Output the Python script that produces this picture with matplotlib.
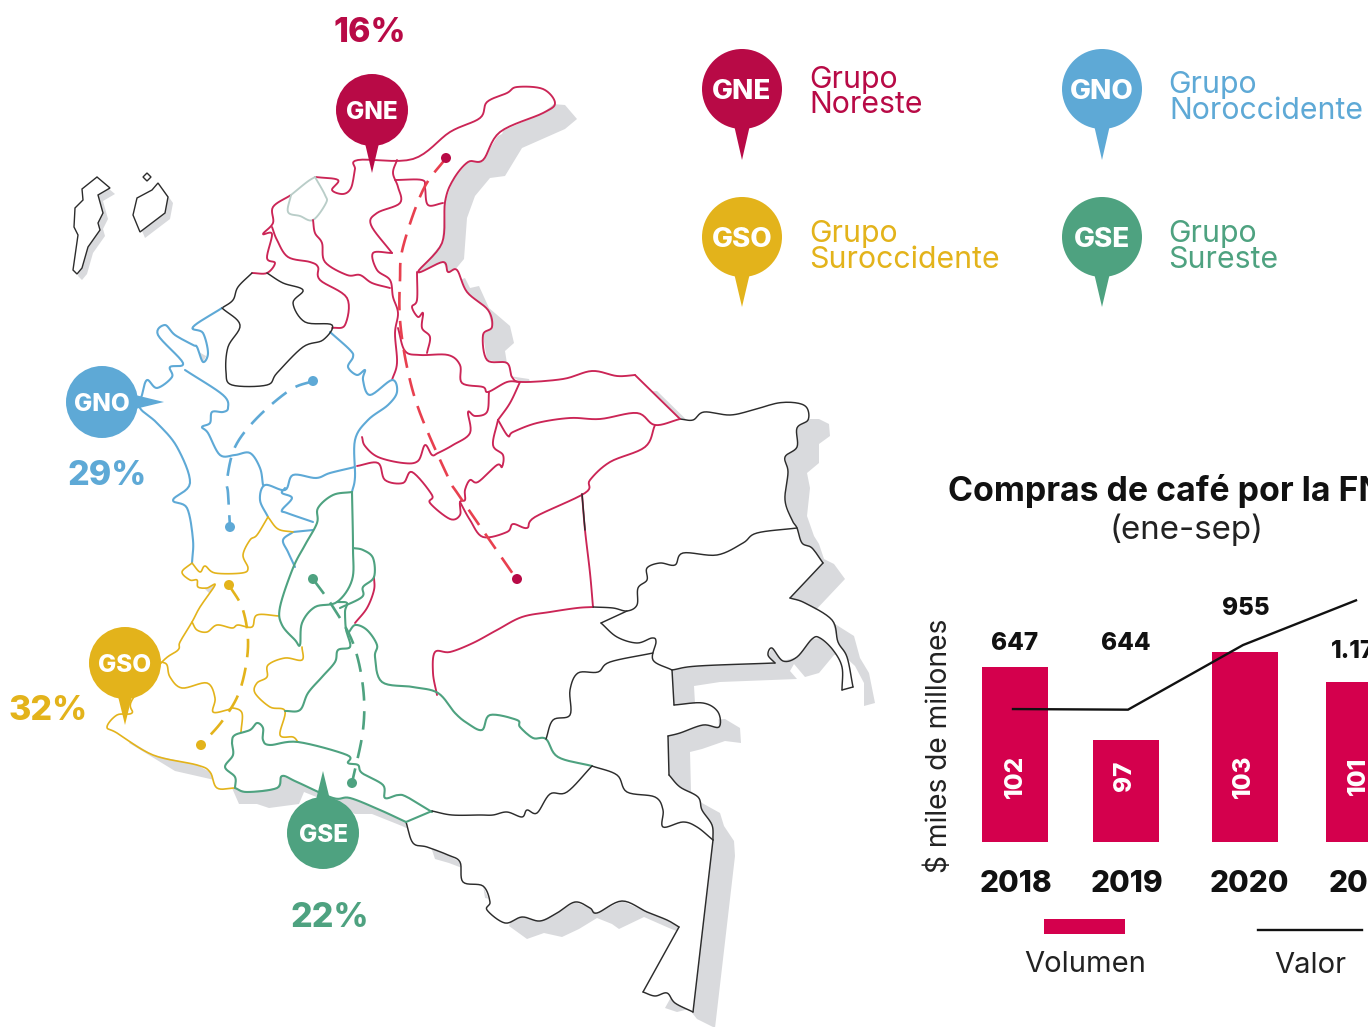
#!/usr/bin/env python3
"""Compras de cafe por grupo regional: mapa de Colombia y barras de la FNC"""
import numpy as np
import matplotlib
matplotlib.use('Agg')
import matplotlib.pyplot as plt
from matplotlib.patches import Circle, Polygon, Rectangle

plt.rcParams['font.family'] = ['Inter', 'DejaVu Sans']

W, H = 1368, 1027

RED = '#b80a46'
BLUE = '#5ea9d6'
YELLOW = '#e3b31b'
GREEN = '#4ea280'
LINE_RED = '#cb2556'
DARK = '#2c2c2c'
PALE = '#b9cdc8'
SHADOW = '#d9dadd'
BAR = '#d4004d'

# chart values
years = ['2018', '2019', '2020', '2021']
volumen = [102, 97, 103, 101]
valor = [647, 644, 955, 1170]
valor_labels = ['647', '644', '955', '1.170']

# map, in image pixels
coast_nw = [(252, 273), (267, 273), (275, 263), (267, 258), (272, 234), (263, 234),
            (273, 223), (273, 207), (291, 195)]
coast_atl = [(291, 195), (307, 182), (315, 177)]
coast_ne = [(315, 177), (338, 180), (332, 190), (343, 194), (351, 188), (355, 170), (358, 160),
            (413, 159), (450, 132), (480, 118), (487, 102), (507, 93), (517, 87),
            (543, 89), (555, 103), (543, 113), (500, 132), (483, 160), (468, 162),
            (453, 180), (445, 202), (442, 243), (418, 272), (443, 262), (448, 272),
            (457, 270), (467, 292), (488, 310), (492, 327), (483, 335), (487, 360),
            (507, 363), (512, 377), (522, 382), (563, 379), (592, 371), (617, 376),
            (635, 375)]
coast_ne2 = [(635, 375), (680, 419)]
east_a = [(680, 419), (693, 420), (704, 412), (730, 415), (753, 410), (778, 403),
          (797, 403), (807, 408), (808, 420), (797, 428), (797, 447), (785, 457),
          (788, 472), (785, 500), (792, 520), (797, 528), (802, 543), (812, 548),
          (823, 563)]
east_b = [(823, 563), (790, 598)]
east_c = [(790, 598), (805, 603), (832, 620), (838, 642), (847, 657), (853, 687)]
east_d = [(853, 687), (842, 690)]
east_e = [(842, 690), (842, 667), (833, 650), (820, 638), (812, 639), (797, 657),
          (783, 661), (772, 648), (768, 655), (775, 663)]
east_f = [(775, 663), (698, 666), (672, 670)]
east_g = [(672, 670), (674, 705)]
east_h = [(674, 705), (703, 703), (718, 712), (719, 727), (703, 725), (680, 733),
          (668, 736)]
east_i = [(668, 736), (669, 775)]
east_j = [(669, 775), (680, 787), (698, 797), (702, 810), (712, 825), (713, 840)]
east_k = [(713, 840), (693, 1012)]
east_l = [(693, 1012), (675, 1003), (667, 993), (655, 996), (643, 992)]
east_m = [(643, 992), (679, 927)]
south_a = [(679, 927), (667, 920), (647, 912), (622, 901), (597, 913), (590, 908),
           (575, 902), (557, 913), (540, 921), (522, 917), (505, 923), (487, 910),
           (490, 902), (483, 886), (463, 882), (460, 862), (448, 855), (427, 847),
           (413, 843), (406, 822)]
coast_green = [(406, 822), (380, 810), (350, 798), (333, 798), (297, 782), (282, 776),
               (277, 788), (247, 792), (235, 788)]
coast_yellow = [(235, 788), (217, 788), (210, 772), (197, 765), (153, 755), (117, 733),
                (107, 727), (117, 715), (132, 713), (132, 700), (162, 662), (178, 650),
                (180, 642), (192, 622), (200, 607), (215, 585), (207, 588), (198, 587),
                (197, 580), (190, 580), (182, 572), (192, 563)]
coast_blue = [(192, 563), (193, 540), (187, 508), (173, 500), (190, 483), (177, 447),
              (157, 423), (140, 408), (142, 395), (147, 380), (157, 388), (172, 377),
              (170, 367), (183, 363), (158, 335), (165, 325), (175, 335), (193, 345),
              (197, 347), (203, 362), (208, 353), (203, 333), (193, 327), (222, 308)]
coast_dark = [(222, 308), (233, 300), (238, 287), (252, 273)]

outer = [coast_nw, coast_atl, coast_ne, coast_ne2, east_a, east_b, east_c, east_d, east_e,
         east_f, east_g, east_h, east_i, east_j, east_k, east_l, east_m, south_a,
         coast_green, coast_yellow, coast_blue, coast_dark]

island_a = [(97, 177), (110, 188), (98, 195), (103, 213), (98, 223), (100, 230), (88, 247),
            (82, 268), (77, 274), (73, 270), (78, 235), (74, 227), (75, 208), (83, 200),
            (82, 189)]
island_b = [(158, 183), (168, 197), (165, 213), (140, 232), (133, 215), (137, 198),
            (152, 190)]
island_c = [(147, 173), (151, 177), (147, 181), (143, 177)]

borders_red = [
    [(313, 220), (315, 233), (322, 243), (325, 262), (347, 275), (360, 275), (372, 283),
     (390, 288)],
    [(272, 227), (277, 240), (288, 257), (310, 262), (318, 267), (320, 280), (347, 298),
     (345, 325), (332, 328)],
    [(397, 160), (393, 173), (398, 187), (400, 203), (377, 213), (371, 225), (392, 253)],
    [(392, 253), (373, 253), (377, 270), (390, 280), (393, 297), (398, 313), (395, 333),
     (397, 363), (392, 380)],
    [(395, 180), (422, 180), (425, 188), (428, 205), (443, 203)],
    [(417, 272), (417, 300), (412, 307), (418, 317), (423, 313), (422, 328), (430, 337),
     (427, 353)],
    [(398, 328), (405, 351), (420, 355), (448, 355), (460, 365), (462, 383), (483, 387),
     (488, 392), (507, 382), (520, 382)],
    [(489, 392), (487, 412), (475, 416), (468, 412), (470, 433), (453, 445), (438, 453),
     (432, 455), (425, 445), (418, 461), (403, 463), (378, 457), (365, 446), (362, 437)],
    [(520, 382), (510, 403), (498, 420)],
    [(498, 420), (508, 436), (513, 432), (537, 423), (570, 418), (600, 419), (637, 413),
     (655, 425), (680, 419)],
    [(498, 420), (493, 445), (503, 455), (502, 467), (497, 465), (478, 482), (470, 480),
     (465, 490), (465, 500), (460, 502), (460, 515), (450, 519), (430, 503), (432, 495),
     (412, 472), (403, 483), (385, 480), (378, 463), (357, 466)],
    [(655, 425), (645, 447), (610, 462), (590, 480), (585, 493), (535, 517), (527, 528),
     (513, 524), (507, 532), (483, 537), (470, 520), (460, 502)],
    [(582, 494), (585, 530), (590, 573), (593, 607)],
    [(593, 607), (577, 608), (550, 612), (522, 617), (497, 630), (473, 643), (450, 652),
     (435, 652), (433, 673), (437, 695)],
    [(374, 577), (374, 590), (367, 608), (355, 623)],
]
borders_blue = [
    [(330, 332), (350, 350), (353, 357), (348, 367), (357, 375), (365, 370), (363, 380),
     (370, 395), (392, 380), (397, 392), (388, 405), (368, 420), (355, 440), (355, 477),
     (352, 492)],
    [(355, 467), (330, 473), (316, 478), (293, 475), (285, 490), (265, 485), (260, 500),
     (268, 517)],
    [(185, 370), (223, 395), (228, 408), (223, 412), (212, 412), (210, 423), (202, 427),
     (208, 433), (220, 455), (235, 455), (250, 453), (260, 468), (263, 485)],
    [(293, 532), (283, 540), (288, 552), (295, 567)],
    [(313, 522), (287, 513), (282, 510), (292, 498), (282, 493), (285, 488)],
    [(293, 532), (313, 530)],
]
borders_yellow = [
    [(268, 517), (257, 535), (250, 540), (243, 555), (248, 568), (242, 573), (215, 573),
     (205, 566), (200, 572), (192, 563)],
    [(268, 517), (278, 529), (293, 532)],
    [(192, 622), (197, 630), (207, 632), (217, 625), (232, 628), (238, 625), (252, 627),
     (257, 615), (279, 616)],
    [(162, 662), (167, 665), (170, 677), (182, 688), (207, 683), (215, 698), (213, 712),
     (227, 710), (233, 708), (242, 713), (241, 732)],
    [(302, 647), (302, 660), (285, 658), (268, 665), (267, 677), (257, 683), (255, 693),
     (270, 707), (285, 711), (280, 735), (293, 737), (298, 742)],
]
borders_green = [
    [(352, 492), (333, 495), (318, 508), (317, 523), (305, 545), (293, 568), (280, 607),
     (282, 625), (295, 640), (300, 645), (302, 623), (315, 607), (337, 602), (352, 580),
     (353, 548), (352, 492)],
    [(353, 548), (363, 550), (373, 558), (374, 577), (363, 587), (362, 597), (340, 608)],
    [(337, 602), (347, 603), (345, 612), (347, 633), (355, 625), (367, 630), (377, 645),
     (375, 657), (382, 682), (413, 687), (438, 693), (455, 713), (467, 723), (482, 730),
     (490, 715), (517, 720), (520, 727), (533, 738), (546, 739), (558, 757), (592, 766)],
    [(347, 633), (350, 647), (338, 650), (335, 662), (322, 677), (308, 693), (300, 710),
     (285, 711)],
    [(432, 812), (407, 797), (398, 795), (385, 798), (383, 785), (362, 773), (358, 765),
     (348, 763), (347, 755), (298, 742), (270, 745), (263, 740), (263, 728), (257, 723),
     (250, 730), (235, 735), (232, 742), (233, 755), (225, 767), (235, 777), (235, 788)],
    [(432, 811), (406, 822)],
]
borders_dark = [
    [(222, 308), (240, 325), (228, 347), (226, 372), (232, 385), (267, 385), (277, 373),
     (303, 347), (323, 340), (332, 325), (305, 322), (293, 303), (303, 290), (283, 283),
     (267, 273)],
    [(593, 607), (613, 608), (627, 611), (637, 605), (638, 588), (647, 580), (647, 568),
     (660, 563), (675, 565), (683, 553), (717, 555), (743, 543), (757, 533), (797, 528)],
    [(627, 611), (601, 623)],
    [(601, 623), (617, 637), (637, 643), (652, 638), (656, 642), (653, 660), (672, 670)],
    [(653, 653), (610, 662), (598, 672), (578, 673), (570, 690), (570, 715), (553, 720),
     (546, 739)],
    [(592, 766), (617, 775), (627, 792), (655, 797), (663, 810), (663, 827), (683, 822),
     (697, 827), (713, 840)],
    [(592, 766), (567, 792), (550, 794), (537, 813), (527, 810), (522, 817), (507, 812),
     (493, 815), (480, 815), (452, 815), (432, 811)],
    [(582, 494), (585, 530)],
]
atlantico = [(315, 177), (325, 195), (326, 203), (313, 220), (300, 216), (288, 212), (291, 195)]

route_gne = [(446, 158), (423, 190), (403, 247), (400, 280), (400, 320), (407, 367),
             (420, 413), (448, 477), (460, 497), (513, 574)]
route_gno = [(313, 381), (290, 390), (257, 418), (235, 447), (227, 480), (228, 493), (230, 527)]
route_gso = [(229, 585), (243, 610), (248, 647), (240, 690), (223, 720), (201, 745)]
route_gse = [(313, 579), (333, 607), (353, 643), (363, 687), (363, 730), (352, 783)]


def smooth(pts, n=8):
    """catmull-rom through the traced points, so borders do not look angular"""
    p = np.array(pts, dtype=float)
    if len(p) < 3:
        return p
    p = np.vstack([2 * p[0] - p[1], p, 2 * p[-1] - p[-2]])
    out = []
    for i in range(1, len(p) - 2):
        for t in np.linspace(0, 1, n, endpoint=False):
            out.append(0.5 * (2 * p[i] + (p[i + 1] - p[i - 1]) * t
                              + (2 * p[i - 1] - 5 * p[i] + 4 * p[i + 1] - p[i + 2]) * t ** 2
                              + (3 * p[i] - p[i - 1] - 3 * p[i + 1] + p[i + 2]) * t ** 3))
    out.append(p[-2])
    return np.array(out)


def draw_line(ax, pts, color, lw=1.35, z=5, **kw):
    xy = smooth(pts)
    ax.plot(xy[:, 0], xy[:, 1], color=color, lw=lw, zorder=z, solid_capstyle='round',
            solid_joinstyle='round', **kw)


def draw_pin(ax, cx, cy, r, tip, label, color, size):
    """circle with a narrow spike, tip is where the spike ends"""
    dx, dy = tip[0] - cx, tip[1] - cy
    d = np.hypot(dx, dy)
    ux, uy = dx / d, dy / d
    half = r * 0.2
    base = (cx + ux * r * 0.9, cy + uy * r * 0.9)
    ax.add_patch(Polygon([(base[0] - uy * half, base[1] + ux * half),
                          (base[0] + uy * half, base[1] - ux * half), tip],
                         closed=True, color=color, lw=0, zorder=8))
    ax.add_patch(Circle((cx, cy), r, color=color, lw=0, zorder=8))
    ax.text(cx, cy, label, color='white', fontsize=size, fontweight='heavy', ha='center',
            va='center_baseline', zorder=9)


fig = plt.figure(figsize=(W / 100, H / 100), dpi=100, facecolor='white')

# chart axes: x in image pixels, one y scale per series
ax_bar = fig.add_axes([0, 0, 1, 1])
ax_bar.set_xlim(0, W)
ax_bar.set_ylim(77.34, 147.68)
ax_bar.axis('off')
ax_line = fig.add_axes([0, 0, 1, 1], sharex=ax_bar)
ax_line.set_ylim(-883, 4059)
ax_line.axis('off')
ax_line.patch.set_alpha(0)

bar_x = [1015, 1126, 1245, 1359]
line_x = [1013, 1128, 1243, 1356]
ax_bar.bar(bar_x, np.array(volumen) - 90.0, bottom=90.0, width=66, color=BAR, lw=0)
ax_line.plot(line_x, valor, color='#111111', lw=1.7, solid_joinstyle='miter')

# map and texts, image pixels
ax = fig.add_axes([0, 0, 1, 1])
ax.set_xlim(0, W)
ax.set_ylim(H, 0)
ax.axis('off')
ax.patch.set_alpha(0)

outline = np.vstack([np.array(seg[:-1]) for seg in outer])
ax.add_patch(Polygon(outline + [22, 16], closed=True, color=SHADOW, lw=0, zorder=1))
ax.add_patch(Polygon(outline, closed=True, color='white', lw=0, zorder=2))

for isl in [island_a, island_b]:
    xy = np.array(isl)
    ax.add_patch(Polygon(xy + [5, 6], closed=True, color=SHADOW, lw=0, zorder=1))
    ax.add_patch(Polygon(xy, closed=True, fc='white', ec=DARK, lw=1.0, zorder=3))
ax.add_patch(Polygon(np.array(island_c), closed=True, fc='white', ec=DARK, lw=1.0, zorder=3))

for seg in [coast_nw, coast_ne, coast_ne2]:
    draw_line(ax, seg, LINE_RED)
draw_line(ax, coast_atl, PALE)
draw_line(ax, atlantico, PALE)
for seg in [east_a, east_b, east_c, east_d, east_e, east_f, east_g, east_h, east_i, east_j,
            east_k, east_l, east_m, south_a, coast_dark]:
    draw_line(ax, seg, DARK, lw=1.05)
draw_line(ax, coast_green, GREEN, lw=1.5)
draw_line(ax, coast_yellow, YELLOW, lw=1.2)
draw_line(ax, coast_blue, BLUE, lw=1.5)
for seg in borders_red:
    draw_line(ax, seg, LINE_RED)
for seg in borders_blue:
    draw_line(ax, seg, BLUE, lw=1.5)
for seg in borders_yellow:
    draw_line(ax, seg, YELLOW, lw=1.2)
for seg in borders_green:
    draw_line(ax, seg, GREEN, lw=1.5)
for seg in borders_dark:
    draw_line(ax, seg, DARK, lw=1.05)

# dashed routes with their end dots
for route, col, dot in [(route_gne, '#e8404f', RED), (route_gno, BLUE, BLUE),
                        (route_gso, YELLOW, YELLOW), (route_gse, GREEN, GREEN)]:
    xy = smooth(route)
    ax.plot(xy[:, 0], xy[:, 1], color=col, lw=1.9, ls=(0, (7, 4)), zorder=6)
    for k in (0, -1):
        if route is route_gne and k == -1:
            end = (517, 579)
        else:
            end = route[k]
        ax.add_patch(Circle(end, 5, color=dot, lw=0, zorder=7))

# pins on the map
draw_pin(ax, 372, 110, 36, (372, 173), 'GNE', RED, 17.5)
draw_pin(ax, 102, 402, 36, (164, 402), 'GNO', BLUE, 17.5)
draw_pin(ax, 125, 663, 36, (125, 725), 'GSO', YELLOW, 17.5)
draw_pin(ax, 323, 833, 36, (323, 771), 'GSE', GREEN, 17.5)

PCT = 24.5
ax.text(370, 42, '16%', color=RED, fontsize=PCT, fontweight='heavy', ha='center', va='baseline', zorder=9)
ax.text(107, 485, '29%', color=BLUE, fontsize=PCT, fontweight='heavy', ha='center', va='baseline', zorder=9)
ax.text(48, 720, '32%', color=YELLOW, fontsize=PCT, fontweight='heavy', ha='center', va='baseline', zorder=9)
ax.text(330, 927, '22%', color=GREEN, fontsize=PCT, fontweight='heavy', ha='center', va='baseline', zorder=9)

# group legend
draw_pin(ax, 742, 89, 40, (742, 160), 'GNE', RED, 20)
draw_pin(ax, 1102, 89, 40, (1102, 160), 'GNO', BLUE, 20)
draw_pin(ax, 742, 237, 40, (742, 307), 'GSO', YELLOW, 20)
draw_pin(ax, 1102, 237, 40, (1102, 307), 'GSE', GREEN, 20)

LEG = 21.8
ax.text(809, 88, 'Grupo', color=RED, fontsize=LEG, va='baseline')
ax.text(809, 113, 'Noreste', color=RED, fontsize=LEG, va='baseline')
ax.text(1168, 93, 'Grupo', color=BLUE, fontsize=LEG, va='baseline')
ax.text(1169, 119, 'Noroccidente', color=BLUE, fontsize=LEG, va='baseline')
ax.text(809, 242, 'Grupo', color=YELLOW, fontsize=LEG, va='baseline')
ax.text(809, 268, 'Suroccidente', color=YELLOW, fontsize=LEG, va='baseline')
ax.text(1168, 242, 'Grupo', color=GREEN, fontsize=LEG, va='baseline')
ax.text(1168, 268, 'Sureste', color=GREEN, fontsize=LEG, va='baseline')

# chart texts
ax.text(948, 501, 'Compras de café por la FNC', color='#111111', fontsize=24.4, fontweight='bold',
        va='baseline')
ax.text(1187, 539, '(ene-sep)', color='#222222', fontsize=23.8, ha='center', va='baseline')
ax.text(939, 746, '$ miles de millones', color='#222222', fontsize=20.3, rotation=90,
        ha='center', va='center')

value_x = [1015, 1126, 1246, 1331]
value_y = [650, 650, 615, 658]
for x, y, txt, ha in zip(value_x, value_y, valor_labels, ['center', 'center', 'center', 'left']):
    ax.text(x, y, txt, color='#111111', fontsize=17.5, fontweight='heavy', ha=ha, va='baseline')
inner_x = [1015, 1125, 1243, 1358]
for x, v in zip(inner_x, volumen):
    ax.text(x, 776, str(v), color='white', fontsize=17.5, fontweight='heavy', rotation=90,
            ha='center', va='center')
year_x = [1016, 1127, 1249, 1329]
for x, y, ha in zip(year_x, years, ['center', 'center', 'center', 'left']):
    ax.text(x, 892, y, color='#111111', fontsize=21.5, fontweight='heavy', ha=ha, va='baseline')

ax.add_patch(Rectangle((1044, 919), 81, 15, color=BAR, lw=0))
ax.plot([1258, 1362], [930, 930], color='#111111', lw=1.7)
ax.text(1085, 972, 'Volumen', color='#222222', fontsize=21, ha='center', va='baseline')
ax.text(1310, 973, 'Valor', color='#222222', fontsize=21, ha='center', va='baseline')

fig.savefig('out.png', dpi=100)
